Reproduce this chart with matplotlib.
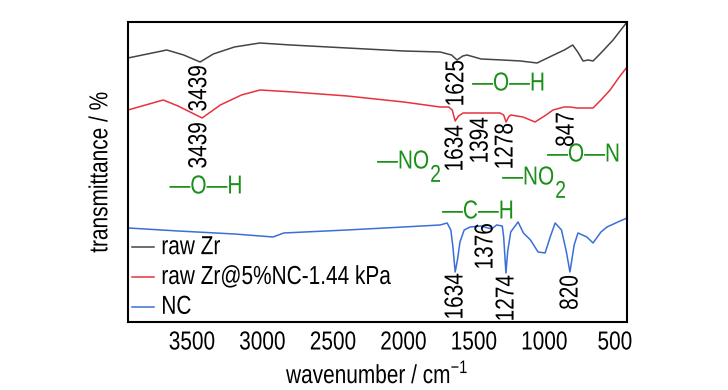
import numpy as np
import matplotlib.pyplot as plt
from matplotlib.patheffects import AbstractPathEffect
from matplotlib.transforms import Affine2D

plt.rcParams['font.family'] = ['Liberation Sans', 'DejaVu Sans']
plt.rcParams['font.size'] = 15

# spectra (wavenumber in cm-1, transmittance in arbitrary units)
wn_zr = [3955, 3680, 3560, 3443, 3350, 3200, 3020, 2800, 2400, 2000, 1740, 1660, 1621,
         1580, 1550, 1450, 1300, 1170, 1053, 950, 860, 800, 760, 727, 690, 656, 600, 514, 470, 415]
t_zr = [264, 272, 267, 260, 268, 275, 279, 277, 274, 271, 270, 267, 262,
        266, 267, 263, 262, 261, 259, 266, 272, 277, 269, 261, 262, 261, 269, 282, 290, 300]

wn_mix = [3955, 3705, 3600, 3429, 3300, 3150, 3018, 2784, 2400, 2000, 1741, 1680, 1655, 1634, 1610,
          1578, 1450, 1316, 1290, 1273, 1255, 1240, 1153, 1068, 1000, 940, 860, 819, 770, 656,
          600, 535, 470, 415]
t_mix = [212, 222, 216, 204, 217, 227, 232, 230, 226, 220, 215, 215, 212, 201, 206,
         209, 209, 209, 207, 200, 205, 207, 205, 200, 206, 212, 215, 215, 214, 214,
         222, 232, 245, 255]

wn_nc = [3955, 3600, 3200, 2926, 2850, 2400, 2000, 1741, 1691, 1665, 1650, 1634, 1618, 1600,
         1570, 1528, 1450, 1376, 1340, 1300, 1290, 1274, 1262, 1240, 1188, 1150, 1100, 1046,
         996, 960, 925, 880, 845, 820, 800, 790, 763, 700, 656, 600, 557, 480, 415]
t_nc = [94, 91, 88, 85, 89, 92, 95, 97, 99, 92, 75, 50, 62, 80,
        92, 95, 96, 93, 97, 96, 85, 49, 70, 90, 100, 89, 82, 70,
        69, 85, 99, 92, 70, 50, 68, 77, 89, 85, 79, 90, 95, 100, 104]

labels = ['raw Zr', 'raw Zr@5%NC-1.44 kPa', 'NC']
colors = ['#454545', '#e8323c', '#3a6fd8']
green = '#1a8f1a'


# the original uses a tall, narrow font: stretch glyphs across the baseline
class Tall(AbstractPathEffect):
    def draw_path(self, renderer, gc, tpath, affine, rgbFace=None):
        renderer.draw_path(gc, tpath, Affine2D().scale(1, 1.25) + affine, rgbFace)

tall = [Tall()]

fig = plt.figure(figsize=(7.28, 3.9), dpi=100)
ax = fig.add_axes([0.1758, 0.1744, 0.6855, 0.7692])

ax.plot(wn_zr, t_zr, color=colors[0], lw=1.1, label=labels[0])
ax.plot(wn_mix, t_mix, color=colors[1], lw=1.1, label=labels[1])
ax.plot(wn_nc, t_nc, color=colors[2], lw=1.1, label=labels[2])

ax.set_xlim(3955, 415)
ax.set_ylim(0, 300)
ax.set_xticks([3500, 3000, 2500, 2000, 1500, 1000, 500])
ax.set_yticks([])
ax.tick_params(axis='x', length=0, pad=9)
for s in ax.spines.values():
    s.set_linewidth(1.5)

# peak positions (rotated) and group assignments
peaks = [(3439, 257, '3439'), (3439, 200, '3439'), (1615, 262, '1625'),
         (1621, 197, '1634'), (1443, 205, '1394'), (1266, 199, '1278'), (833, 210, '847'),
         (1408, 99, '1376'), (1621, 49, '1634'), (1259, 47, '1274'), (805, 47, '820')]
for x, y, s in peaks:
    ax.text(x, y, s, rotation=90, ha='center', va='top', path_effects=tall)

groups = [(3401, 134, '—O—H'), (2188, 159, '—NO'), (1514, 237, '—O—H'),
          (982, 166, '—O—N'), (1301, 143, '—NO'), (1727, 109, '—C—H')]
for x, y, s in groups:
    h = 'center' if s == '—O—H' and x > 3000 else 'left'
    t = ax.text(x, y, s, color=green, ha=h, va='center', path_effects=tall)
    if s == '—NO':
        ax.annotate('2', xy=(1, 0), xycoords=t, xytext=(0.5, -3.5), textcoords='offset points',
                    ha='left', va='center', color=green, fontsize=14, path_effects=tall)

leg = ax.legend(loc='lower left', frameon=False, handlelength=1.05, handletextpad=0.35,
                labelspacing=0.52, borderaxespad=0.2, borderpad=0.0)
for t in leg.get_texts():
    t.set_path_effects(tall)

ax.set_ylabel('transmittance / %', labelpad=12, path_effects=tall)
ax.set_xlabel('wavenumber / cm$^{\\mathregular{-1}}$', labelpad=8, path_effects=tall)
for t in ax.get_xticklabels():
    t.set_path_effects(tall)

fig.savefig('out.png', dpi=100, facecolor='white')
